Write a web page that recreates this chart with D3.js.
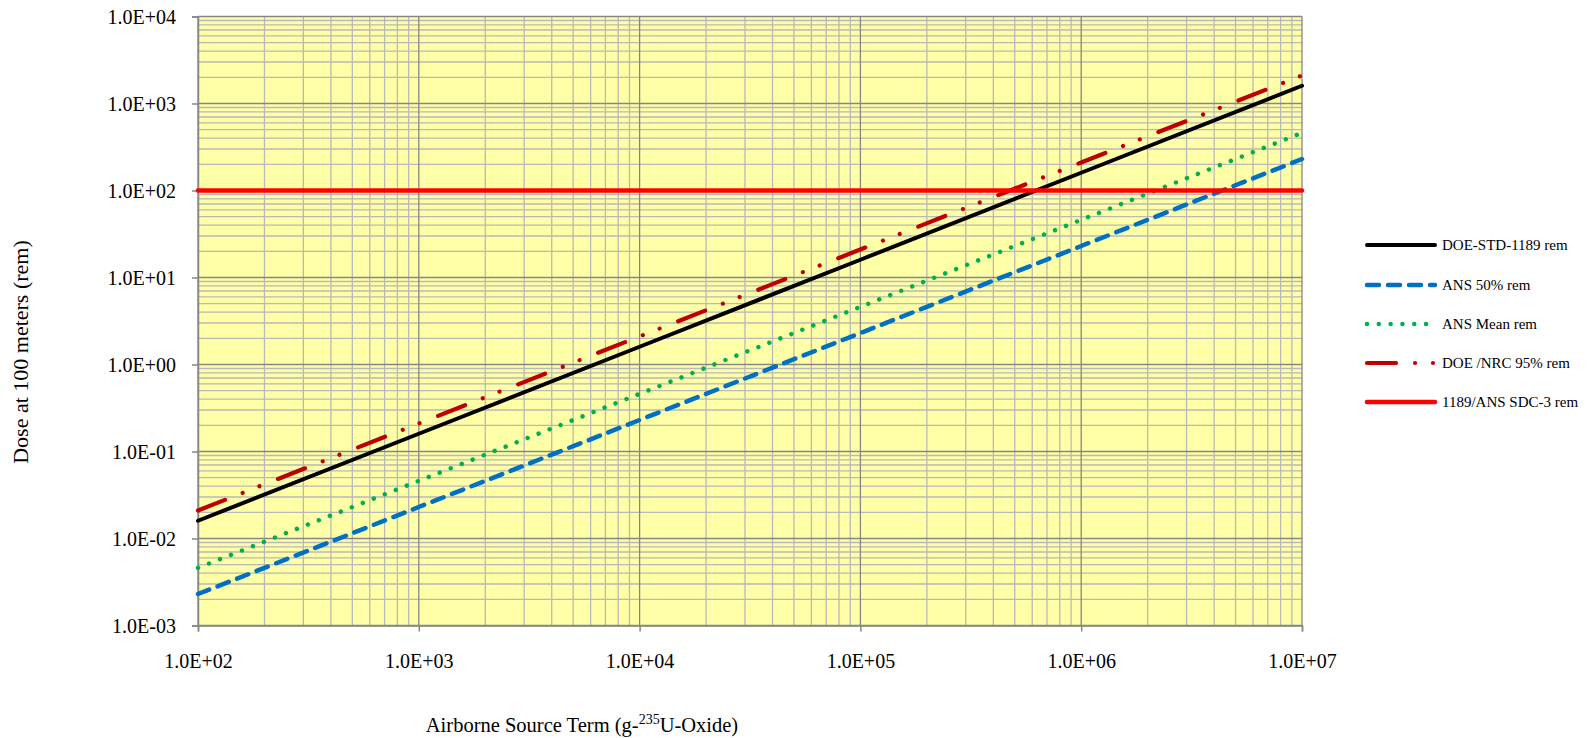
<!DOCTYPE html>
<html>
<head>
<meta charset="utf-8">
<script src="https://cdn.jsdelivr.net/npm/d3@7"></script>
<style>
  body { margin: 0; background: #fff; }
  svg { display: block; }
  svg text { font-family: "Liberation Serif", "DejaVu Serif", serif; }
</style>
</head>
<body>
<svg id="chart" width="1590" height="738"></svg>
<script>
// source term (g) at decade points
const xValues = [1e2, 1e3, 1e4, 1e5, 1e6, 1e7];
// dose series (rem)
const doeStd1189 = [0.016, 0.16, 1.6, 16, 160, 1600];
const ans50 = [0.0023, 0.023, 0.23, 2.3, 23, 230];
const ansMean = [0.0046, 0.046, 0.46, 4.6, 46, 460];
const doeNrc95 = [0.021, 0.21, 2.1, 21, 210, 2100];
const sdc3 = [100, 100, 100, 100, 100, 100];

const xTicks = [1e2, 1e3, 1e4, 1e5, 1e6, 1e7];
const yTicks = [1e-3, 1e-2, 1e-1, 1e0, 1e1, 1e2, 1e3, 1e4];

const seriesNames = ["DOE-STD-1189 rem", "ANS 50% rem", "ANS Mean rem", "DOE /NRC 95% rem", "1189/ANS SDC-3 rem"];

const margin = {top: 16.5, right: 288, bottom: 112.5, left: 198};
const width = 1590, height = 738;

const svg = d3.select("#chart");

const x = d3.scaleLog().domain([1e2, 1e7]).range([margin.left, width - margin.right]);
const y = d3.scaleLog().domain([1e-3, 1e4]).range([height - margin.bottom, margin.top]);

// exponent label like 1.0E+04
const fmt = v => {
  const e = Math.round(Math.log10(v));
  const s = e < 0 ? "-" : "+";
  return "1.0E" + s + String(Math.abs(e)).padStart(2, "0");
};

// plot background
svg.append("rect")
  .attr("x", x(1e2)).attr("y", y(1e4))
  .attr("width", x(1e7) - x(1e2))
  .attr("height", y(1e-3) - y(1e4))
  .attr("fill", "#FFFFA8");

// minor grid
const minorX = [], minorY = [];
for (let e = 2; e < 7; e++) for (let m = 2; m <= 9; m++) minorX.push(m * Math.pow(10, e));
for (let e = -3; e < 4; e++) for (let m = 2; m <= 9; m++) minorY.push(m * Math.pow(10, e));

const grid = svg.append("g");
grid.selectAll(".mx").data(minorX).enter().append("line")
  .attr("x1", d => x(d)).attr("x2", d => x(d))
  .attr("y1", y(1e4)).attr("y2", y(1e-3))
  .attr("stroke", "#B9B9B9").attr("stroke-width", 1.3);
grid.selectAll(".my").data(minorY).enter().append("line")
  .attr("y1", d => y(d)).attr("y2", d => y(d))
  .attr("x1", x(1e2)).attr("x2", x(1e7))
  .attr("stroke", "#B9B9B9").attr("stroke-width", 1.3);

// major grid
grid.selectAll(".Mx").data(xTicks).enter().append("line")
  .attr("x1", d => x(d)).attr("x2", d => x(d))
  .attr("y1", y(1e4)).attr("y2", y(1e-3))
  .attr("stroke", "#868686").attr("stroke-width", 1.3);
grid.selectAll(".My").data(yTicks).enter().append("line")
  .attr("y1", d => y(d)).attr("y2", d => y(d))
  .attr("x1", x(1e2)).attr("x2", x(1e7))
  .attr("stroke", "#868686").attr("stroke-width", 1.3);

// axes
const xAxis = svg.append("g")
  .attr("transform", `translate(0,${y(1e-3)})`)
  .call(d3.axisBottom(x).tickValues(xTicks).tickFormat(fmt).tickSize(6).tickPadding(22));
const yAxis = svg.append("g")
  .attr("transform", `translate(${x(1e2)},0)`)
  .call(d3.axisLeft(y).tickValues(yTicks).tickFormat(fmt).tickSize(6).tickPadding(16));

[xAxis, yAxis].forEach(g => {
  g.attr("font-family", null);
  g.select(".domain").attr("stroke", "#868686").attr("stroke-width", 1.5);
  g.selectAll(".tick line").attr("stroke", "#868686").attr("stroke-width", 1.5);
  g.selectAll(".tick text")
    .attr("fill", "#000")
    .style("font-family", "'Liberation Serif', serif")
    .style("font-size", "20px");
});
yAxis.selectAll(".tick text").attr("dy", "0.35em");

// series
const series = [
  {name: seriesNames[0], values: doeStd1189, color: "#000000", width: 4, dash: null},
  {name: seriesNames[1], values: ans50, color: "#0070C0", width: 4.5, dash: "12 9"},
  {name: seriesNames[2], values: ansMean, color: "#00B050", width: 4.5, dash: "0.01 11.8"},
  {name: seriesNames[3], values: doeNrc95, color: "#C00000", width: 4.2, dash: "29 19 0.01 18 0.01 20"},
  {name: seriesNames[4], values: sdc3, color: "#FF0000", width: 4.5, dash: null}
];

const line = d3.line()
  .x(d => x(d[0]))
  .y(d => y(d[1]));

const plot = svg.append("g");
plot.selectAll("path").data(series).enter().append("path")
  .attr("d", s => line(xValues.map((v, i) => [v, s.values[i]])))
  .attr("fill", "none")
  .attr("stroke", s => s.color)
  .attr("stroke-width", s => s.width)
  .attr("stroke-linecap", "round")
  .attr("stroke-dasharray", s => s.dash);

// legend
const legendRows = [245, 285, 324, 363, 402];
const legend = svg.append("g");
series.forEach((s, i) => {
  const g = legend.append("g").attr("transform", `translate(0,${legendRows[i]})`);
  g.append("line")
    .attr("x1", 1367).attr("x2", 1435)
    .attr("stroke", s.color)
    .attr("stroke-width", s.width)
    .attr("stroke-linecap", "round")
    .attr("stroke-dasharray", s.dash);
  g.append("text")
    .attr("x", 1442).attr("y", 0).attr("dy", "0.35em")
    .style("font-size", "15px")
    .text(s.name);
});

// axis titles
const xt = svg.append("text")
  .attr("x", 582).attr("y", 732)
  .attr("text-anchor", "middle")
  .style("font-size", "20.5px");
xt.append("tspan").text("Airborne Source Term (g-");
xt.append("tspan").style("font-size", "14px").attr("dy", -8).text("235");
xt.append("tspan").attr("dy", 8).text("U-Oxide)");

svg.append("text")
  .attr("transform", "translate(28,352) rotate(-90)")
  .attr("text-anchor", "middle")
  .style("font-size", "22px")
  .text("Dose at 100 meters (rem)");
</script>
</body>
</html>
